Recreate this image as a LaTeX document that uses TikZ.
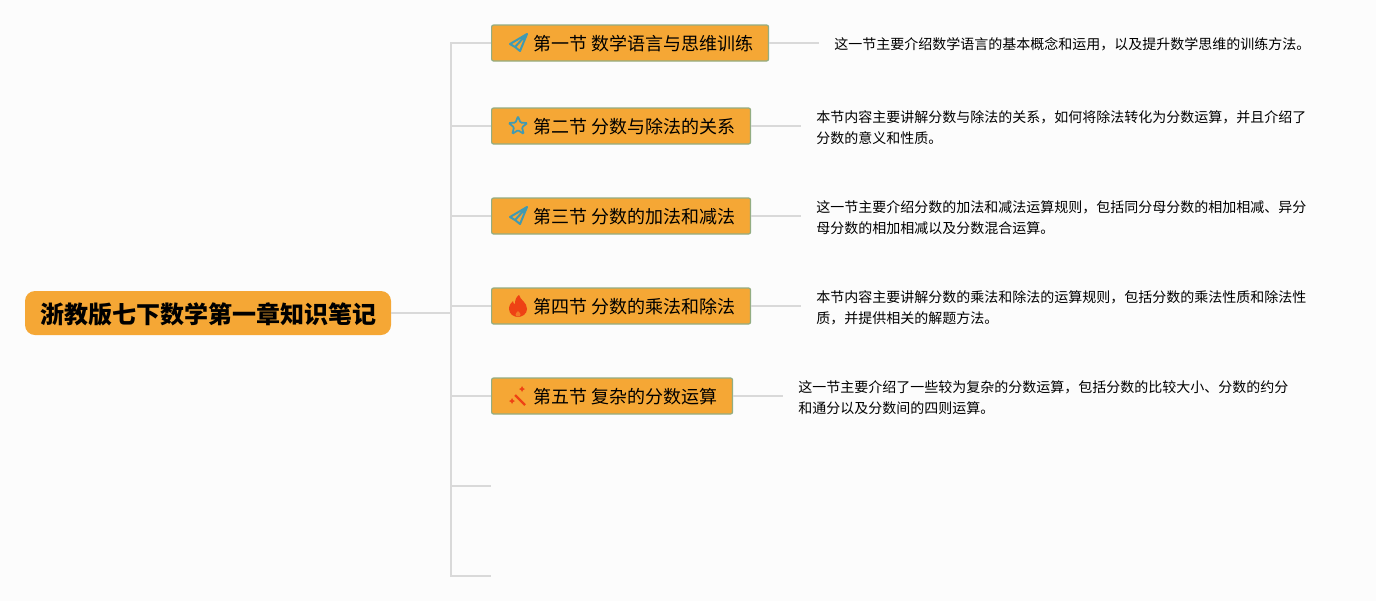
\documentclass[tikz,border=0pt]{standalone}
\usepackage{xcolor}
\usepackage{fontspec}
\setmainfont{Noto Sans CJK SC}
\usetikzlibrary{shapes.geometric}
\definecolor{pagewhite}{RGB}{252, 252, 252}
\definecolor{boxorange}{RGB}{245, 167, 53}
\definecolor{boxedge}{RGB}{147, 173, 130}
\definecolor{linegray}{RGB}{217, 217, 217}
\definecolor{icontealblue}{RGB}{64, 154, 178}
\definecolor{iconred}{RGB}{238, 66, 20}
\newcommand{\iconspace}{\hspace*{19.5pt}}
\tikzset{
  rootbox/.style={fill=boxorange, rounded corners=7.5pt, minimum width=274.5pt, minimum height=33pt, inner sep=0pt, text height=17pt, text depth=2pt, font=\fontsize{18pt}{22pt}\selectfont\bfseries},
  secbox/.style={draw=boxedge, fill=boxorange, line width=0.9pt, rounded corners=1.5pt, anchor=west, minimum height=27pt, inner xsep=11.6pt, inner ysep=0pt, text height=13pt, text depth=1.5pt, font=\fontsize{13.5pt}{16pt}\selectfont},
  descnode/.style={anchor=west, align=left, inner xsep=11.25pt, inner ysep=0pt, font=\fontsize{10.5pt}{15.75pt}\selectfont},
  branch/.style={linegray, line width=1.5pt},
  planeicon/.pic={\draw[icontealblue, line width=1.5pt, line join=round] (9,-9) -- (-8,1) -- (-3,4) -- (2,8) -- cycle (-3,4) -- (9,-9);},
  staricon/.pic={\node[star, star points=5, star point ratio=2.3, draw=icontealblue, line width=1.3pt, rounded corners=0.8pt, minimum size=14.5pt, inner sep=0pt] (starshape) at (0,0) {};},
  fireicon/.pic={\fill[iconred] (1,-11) .. controls (2,-6) and (9,-4) .. (9,3) .. controls (9,8) and (4,11) .. (0,11) .. controls (-4,11) and (-9,8) .. (-9,3) .. controls (-9,-1) and (-7,-3) .. (-5,-5) .. controls (-5,-3) and (-4,-2) .. (-3,-2) .. controls (-3,-6) and (-2,-9) .. (1,-11) -- cycle;
    \fill[boxorange!55!iconred] (0,5) .. controls (1,6.5) and (2.5,7) .. (2.5,8.5) .. controls (2.5,10) and (1,10.5) .. (0,10.5) .. controls (-1,10.5) and (-2.5,10) .. (-2.5,8.5) .. controls (-2.5,7) and (-1,6.5) .. (0,5) -- cycle;},
  wandicon/.pic={\draw[iconred, line width=1.6pt] (-3,-1) -- (7,9);
    \fill[iconred] (4,-10) -- (5,-8) -- (7,-7) -- (5,-6) -- (4,-4) -- (3,-6) -- (1,-7) -- (3,-8) -- cycle;
    \fill[iconred] (-6,2) -- (-5,4) -- (-3,5) -- (-5,6) -- (-6,8) -- (-7,6) -- (-9,5) -- (-7,4) -- cycle;}
}

\begin{document}
\begin{tikzpicture}[x=0.75pt, y=-0.75pt]
\useasboundingbox (0,0) rectangle (1376,601);
\fill[pagewhite] (0,0) rectangle (1376,601);

% Central topic and the section boxes
\node[rootbox] (root) at (208,313) {浙教版七下数学第一章知识笔记};
\coordinate (spine) at (451,313);
\node[secbox] (sec1) at (491,43) {\iconspace 第一节 数学语言与思维训练};
\node[secbox] (sec2) at (491,126) {\iconspace 第二节 分数与除法的关系};
\node[secbox] (sec3) at (491,216) {\iconspace 第三节 分数的加法和减法};
\node[secbox] (sec4) at (491,306) {\iconspace 第四节 分数的乘法和除法};
\node[secbox] (sec5) at (491,396) {\iconspace 第五节 复杂的分数运算};
\coordinate (empty6) at (491,486);
\coordinate (empty7) at (491,576);

% Notes beside each section
\node[descnode] (desc1) at (819,44) {这一节主要介绍数学语言的基本概念和运用，以及提升数学思维的训练方法。};
\node[descnode] (desc2) at (801,128) {本节内容主要讲解分数与除法的关系，如何将除法转化为分数运算，并且介绍了\\分数的意义和性质。};
\node[descnode] (desc3) at (801,218) {这一节主要介绍分数的加法和减法运算规则，包括同分母分数的相加相减、异分\\母分数的相加相减以及分数混合运算。};
\node[descnode] (desc4) at (801,308) {本节内容主要讲解分数的乘法和除法的运算规则，包括分数的乘法性质和除法性\\质，并提供相关的解题方法。};
\node[descnode] (desc5) at (783,398) {这一节主要介绍了一些较为复杂的分数运算，包括分数的比较大小、分数的约分\\和通分以及分数间的四则运算。};

% Icons
\pic at (518,43) {planeicon};
\pic at (518,126) {staricon};
\pic at (518,216) {planeicon};
\pic at (518,306) {fireicon};
\pic at (518,396) {wandicon};

% Connectors
\draw[branch] (root.east) -- (spine);
\draw[branch] (spine) |- (sec1.west);
\draw[branch] (spine) |- (sec2.west);
\draw[branch] (spine) |- (sec3.west);
\draw[branch] (spine) |- (sec4.west);
\draw[branch] (spine) |- (sec5.west);
\draw[branch] (spine) |- (empty6);
\draw[branch] (spine) |- (empty7);
\draw[branch] (sec1.east) -- (sec1.east -| desc1.west);
\draw[branch] (sec2.east) -- (sec2.east -| desc2.west);
\draw[branch] (sec3.east) -- (sec3.east -| desc3.west);
\draw[branch] (sec4.east) -- (sec4.east -| desc4.west);
\draw[branch] (sec5.east) -- (sec5.east -| desc5.west);
\end{tikzpicture}
\end{document}
